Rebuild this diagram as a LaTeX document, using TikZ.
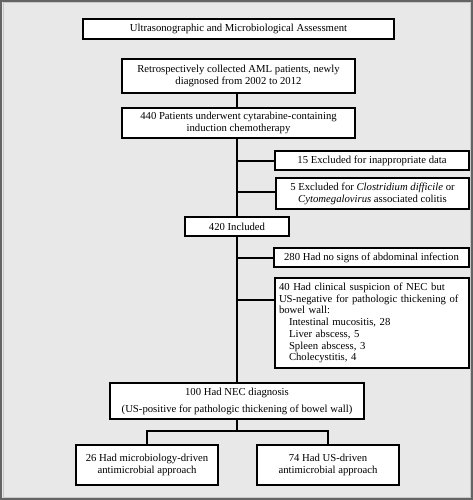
\documentclass[tikz,border=0pt]{standalone}
\usepackage{fontspec}
\setmainfont{Liberation Serif}
\begin{document}
\begin{tikzpicture}[x=1pt,y=-1pt,
  box/.style={draw=black,line width=1.2pt,fill=white,inner sep=2pt,align=center,
    font=\fontsize{10.7}{12}\selectfont},
  conn/.style={draw=black,line width=1.2pt}]
\useasboundingbox (0,0) rectangle (473,500);
\fill[fill={rgb,255:red,232;green,232;blue,232}] (0,0) rectangle (473,500);
\draw[line width=2pt,draw={rgb,255:red,100;green,100;blue,100}] (1,1) rectangle (472,499);
\draw[line width=0.6pt,draw={rgb,255:red,200;green,200;blue,200}] (2.8,2.8) rectangle (470.2,497.2);

\node[box,minimum width=311,minimum height=20] (title) at (238.5,29) {Ultrasonographic and Microbiological Assessment};
\node[box,minimum width=233,minimum height=34] (ret) at (238.5,76) {Retrospectively collected AML patients, newly\\diagnosed from 2002 to 2012};
\node[box,minimum width=233,minimum height=30] (b440) at (238.5,123) {440 Patients underwent cytarabine-containing\\induction chemotherapy};
\node[box,minimum width=194,minimum height=19] (ex15) at (372,160.5) {15 Excluded for inappropriate data};
\node[box,minimum width=193,minimum height=31] (ex5) at (372.5,193.5) {5 Excluded for \textit{Clostridium difficile} or\\\textit{Cytomegalovirus} associated colitis};
\node[box,minimum width=104,minimum height=19] (b420) at (237,226.5) {420 Included};
\node[box,minimum width=195,minimum height=19] (b280) at (371.5,257.5) {280 Had no signs of abdominal infection};
\node[box,minimum width=194,minimum height=90,text width=186,align=left,inner sep=3.5pt,
  font=\fontsize{10.7}{11.7}\selectfont] (b40) at (372,323) {40 Had clinical suspicion of NEC but\\US-negative for pathologic thickening of\\bowel wall:\\\hspace*{10pt}Intestinal mucositis, 28\\\hspace*{10pt}Liver abscess, 5\\\hspace*{10pt}Spleen abscess, 3\\\hspace*{10pt}Cholecystitis, 4};
\node[box,minimum width=254,minimum height=36] (b100) at (237,401) {100 Had NEC diagnosis\\[5pt](US-positive for pathologic thickening of bowel wall)};
\node[box,minimum width=142,minimum height=40] (b26) at (147,465) {26 Had microbiology-driven\\antimicrobial approach};
\node[box,minimum width=142,minimum height=40] (b74) at (328,465) {74 Had US-driven\\antimicrobial approach};

\coordinate (j15) at (237,161);
\coordinate (j5) at (237,192);
\coordinate (j280) at (237,258);
\coordinate (j40) at (237,300);
\coordinate (sp) at (237,431);

\draw[conn] (ret.south -| sp) -- (b440.north -| sp);
\draw[conn] (b440.south -| sp) -- (b420.north -| sp);
\draw[conn] (b420) -- (b100);
\draw[conn] (j15) -- (j15 -| ex15.west);
\draw[conn] (j5) -- (j5 -| ex5.west);
\draw[conn] (j280) -- (j280 -| b280.west);
\draw[conn] (j40) -- (j40 -| b40.west);
\draw[conn] (b100.south -| sp) -- (sp);
\draw[conn] (sp) -| (b26.north);
\draw[conn] (sp) -| (b74.north);
\end{tikzpicture}
\end{document}
